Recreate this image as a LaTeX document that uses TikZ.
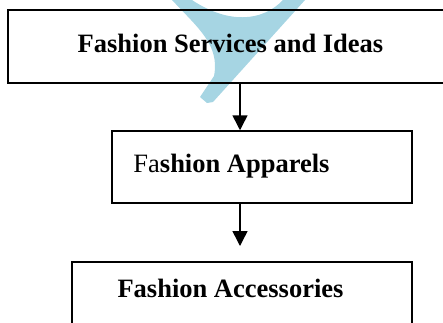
\documentclass[tikz,border=0pt]{standalone}
\usepackage{fontspec}
\setmainfont{Liberation Serif}
\usetikzlibrary{arrows.meta}
\definecolor{wmark}{RGB}{166,213,227}
\tikzset{
  box/.style={draw=black, line width=1.5pt, rectangle, inner sep=0pt},
  lbl/.style={inner sep=0pt, font=\fontsize{26.5}{30}\selectfont\bfseries},
  arr/.style={draw=black, line width=1.5pt, -{Triangle[width=15pt,length=15pt]}}
}
\begin{document}
\begin{tikzpicture}[x=1pt,y=-1pt]
\useasboundingbox (0,0) rectangle (443,322);
\clip (0,0) rectangle (443,322);
% watermark
\fill[wmark] (172,0) .. controls (198,28) and (220,45) .. (214,76)
  -- (200,97) -- (207,103) -- (213,102) -- (305,0) -- (283,0)
  .. controls (262,22) and (228,24) .. (192,0) -- cycle;
% boxes
\node[box, minimum width=490pt, minimum height=73pt] (top) at (253,46.5) {};
\node[box, minimum width=300pt, minimum height=72pt] (mid) at (262,167) {};
\node[box, minimum width=340pt, minimum height=90pt] (bot) at (242,307) {};
% texts
\node[lbl, anchor=base] (t1) at (230.5,52) {Fashion Services and Ideas};
\node[lbl, anchor=base] (t2) at (231.5,172) {{\mdseries Fa}shion Apparels};
\node[lbl, anchor=base] (t3) at (230.5,297) {Fashion Accessories};
% connectors
\coordinate (ax) at (240,0);
\coordinate (e2) at (240,246);
\draw[arr] (top.south -| ax) -- (mid.north -| ax);
\draw[arr] (mid.south -| ax) -- (e2);
\end{tikzpicture}
\end{document}
